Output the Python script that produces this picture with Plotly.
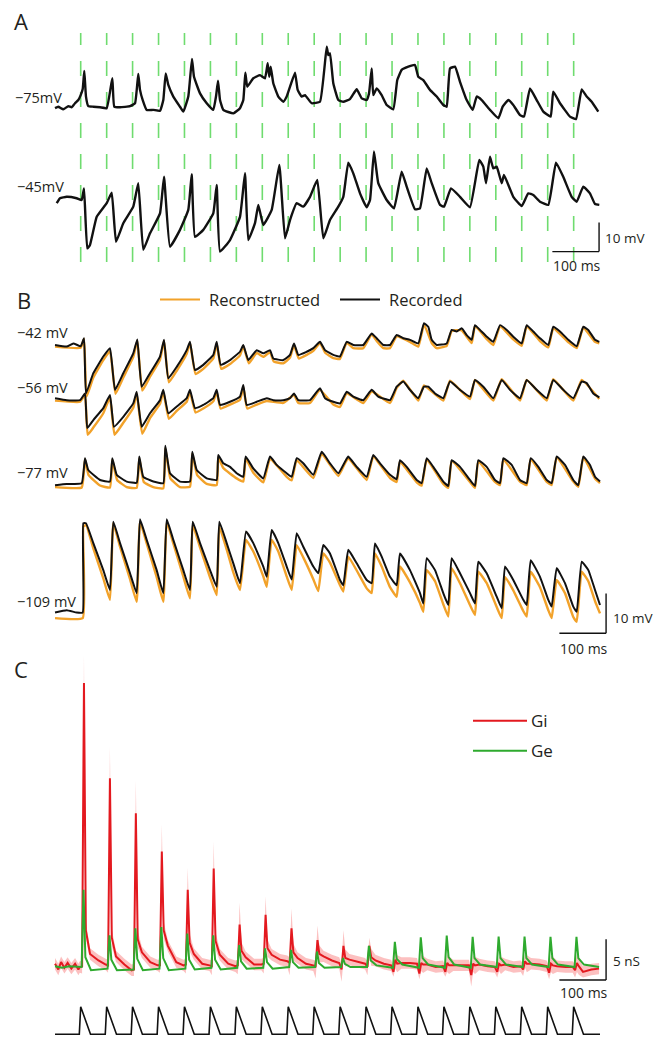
import plotly.graph_objects as go

W, H = 667, 1037

# ---------------- data ----------------
STIM_T = [0.0, 55.6, 111.1, 166.7, 222.2, 277.8, 333.3, 388.9, 444.4, 500.0,
          555.6, 611.1, 666.7, 722.2, 777.8, 833.3, 888.9, 944.4, 1000.0, 1055.6]

# Panel A : (time ms, mV)
A1_TRACE = [(-55, -75.4), (-48, -74.9), (-37.3, -75.8), (-26.5, -74.7), (-19.3, -75.1), (-12.2, -73.7),
            (-5.1, -72.6), (0, -70.9), (4.3, -68.8), (7.7, -62.6), (11.3, -71.4), (16.3, -74.7), (27.0, -74.9),
            (41.3, -75.1), (55.7, -75.4), (67.7, -65.1), (71.9, -74.9), (84.2, -75.1), (105.6, -74.7),
            (116.3, -73.7), (123.3, -63.6), (127.0, -69.1), (132.8, -72.6), (141.3, -76.0), (155.5, -76.0),
            (169.8, -76.3), (176.9, -72.6), (182.0, -63.4), (187.6, -67.4), (198.3, -71.4), (212.6, -74.9),
            (219.7, -76.6), (230.4, -71.4), (238.3, -58.4), (242.6, -64.6), (255.5, -70.3), (269.8, -73.7),
            (283.9, -76.0), (289.7, -71.4), (294.0, -65.9), (298.3, -72.6), (305.3, -76.0), (326.8, -77.2),
            (341.1, -75.4), (348.2, -72.6), (352.5, -63.2), (356.7, -68.0), (369.6, -65.1), (383.9, -64.0),
            (394.6, -65.1), (400.4, -59.9), (403.8, -64.6), (406.8, -61.1), (412.4, -66.8), (423.1, -71.4),
            (433.8, -73.2), (441.1, -71.4), (458.9, -63.2), (464.6, -69.1), (473.2, -71.4), (480.3, -70.9),
            (494.6, -73.7), (512.4, -73.2), (526.8, -54.2), (530.2, -57.1), (533.8, -56.5), (540.9, -66.8),
            (551.6, -72.6), (562.3, -73.2), (576.6, -72.3), (591.0, -68.9), (601.7, -72.0), (612.4, -72.6),
            (617.4, -70.3), (623.1, -61.7), (626.5, -70.9), (633.8, -68.6), (644.5, -70.9), (655.2, -74.3),
            (669.4, -75.8), (677.9, -65.7), (687.3, -62.2), (701.5, -61.1), (715.8, -60.5), (722.9, -64.6),
            (733.6, -65.7), (747.9, -69.1), (762.3, -71.4), (776.4, -74.3), (783.7, -74.9), (790.8, -61.7),
            (801.5, -61.1), (812.2, -66.3), (826.5, -72.6), (839.4, -76.0), (848.0, -71.4), (858.7, -72.6),
            (876.4, -76.0), (894.2, -78.9), (903.6, -74.9), (915.6, -72.6), (926.3, -74.3), (940.7, -77.8),
            (949.2, -78.3), (962.1, -68.6), (976.4, -72.6), (990.6, -76.6), (1006.4, -78.3), (1011.9, -69.7),
            (1026.3, -73.7), (1047.7, -78.3), (1060.6, -79.2), (1072.8, -68.9), (1083.5, -71.4),
            (1094.2, -73.2), (1108.3, -76.6)]

A2_TRACE = [(-51.4, -46.1), (-44.3, -44.4), (-30.0, -43.9), (-8.6, -44.4), (2.1, -45.0), (7.1, -41.0),
            (14.1, -61.7), (19.9, -60.5), (34.3, -50.8), (55.7, -46.1), (66.4, -42.5), (75.6, -59.4),
            (91.2, -53.0), (112.6, -47.3), (123.3, -39.2), (134.0, -62.2), (148.4, -56.5), (169.8, -49.6),
            (178.4, -37.0), (191.2, -61.1), (212.6, -55.3), (230.4, -48.4), (237.7, -36.1), (244.7, -57.7),
            (262.5, -55.3), (283.9, -49.6), (291.2, -39.8), (298.3, -62.8), (319.7, -58.8), (341.1, -50.8),
            (351.8, -35.8), (358.9, -58.8), (373.2, -53.0), (380.3, -46.7), (391.0, -53.6), (409.0, -48.4),
            (425.3, -32.9), (437.5, -58.2), (448.2, -51.9), (462.5, -46.1), (476.6, -47.3), (491.0, -43.9),
            (506.6, -38.1), (519.5, -58.2), (533.8, -51.9), (551.6, -47.3), (562.3, -43.9), (573.0, -32.1),
            (583.7, -35.8), (598.1, -42.7), (612.4, -47.5), (619.5, -45.0), (628.0, -28.3), (637.2, -39.2),
            (655.2, -45.0), (670.9, -47.9), (687.3, -35.2), (698.0, -40.4), (715.8, -48.2), (726.5, -47.9),
            (740.9, -34.1), (751.6, -39.2), (769.4, -46.7), (778.0, -47.3), (792.9, -41.0), (812.2, -43.9),
            (833.6, -47.5), (853.5, -31.2), (862.1, -33.5), (867.9, -39.2), (876.4, -30.1), (883.5, -34.1),
            (890.8, -33.5), (901.5, -39.2), (906.4, -36.4), (926.3, -43.9), (944.3, -47.1), (958.4, -42.7),
            (969.1, -43.3), (983.5, -45.6), (1001.3, -46.7), (1017.7, -32.1), (1033.3, -37.0), (1051.3, -43.9),
            (1062.1, -45.6), (1076.2, -40.4), (1090.5, -42.7), (1101.3, -46.4), (1110.5, -46.7)]

# Panel B : (time ms, mV) recorded (black) and reconstructed (orange)
B42_REC = [(-55, -42.0), (-30, -42.4), (-15.8, -41.6), (0, -42.3), (7.1, -40.3), (11.3, -54.2), (27.0, -49.1),
           (48.4, -44.9), (62.7, -42.8), (73.4, -53.3), (91.2, -49.1), (112.6, -44.1), (121.2, -40.6),
           (130.6, -52.5), (148.4, -49.1), (169.8, -44.9), (178.4, -40.7), (187.6, -50.4), (205.6, -47.5),
           (227.0, -43.3), (234.0, -41.2), (244.7, -48.3), (262.5, -47.0), (283.9, -44.5), (291.2, -41.2),
           (299.8, -47.0), (319.7, -45.8), (341.1, -43.7), (348.2, -42.0), (358.9, -45.8), (376.9, -43.3),
           (391.0, -44.1), (405.3, -43.3), (412.4, -45.4), (433.8, -45.8), (448.2, -44.5), (456.7, -41.6),
           (465.9, -44.5), (483.9, -43.7), (498.1, -42.8), (512.4, -41.2), (523.1, -43.3), (540.9, -44.5),
           (555.2, -44.9), (569.6, -41.2), (583.7, -42.0), (605.1, -42.0), (623.1, -39.1), (633.8, -40.3),
           (648.0, -42.0), (662.3, -42.0), (676.6, -39.5), (690.8, -40.3), (705.1, -40.7), (722.9, -41.6),
           (735.1, -36.5), (744.3, -37.4), (751.6, -40.7), (762.3, -42.0), (783.7, -41.6), (794.4, -38.2),
           (805.1, -38.6), (815.8, -37.8), (826.5, -39.5), (837.2, -40.7), (844.3, -37.0), (855.0, -38.2),
           (869.4, -39.9), (883.5, -41.2), (897.9, -37.0), (912.2, -38.2), (926.3, -39.9), (944.3, -41.6),
           (955.0, -37.0), (969.1, -38.6), (983.5, -40.3), (1001.3, -42.0), (1011.9, -37.4), (1026.3, -38.6),
           (1044.1, -40.7), (1062.1, -42.3), (1076.2, -37.4), (1086.9, -38.2), (1101.3, -40.7), (1110.5, -41.2)]
B42_REC_ON = [(-55, -42.4), (0, -42.7), (7.1, -40.5), (12.5, -55.0), (27, -50.2), (48.4, -45.8), (62.7, -43.5),
              (74.5, -54.3), (91.2, -50.2), (112.6, -45.0), (121.2, -40.9), (131.8, -53.5), (148.4, -50.0),
              (169.8, -45.7), (178.4, -41.0), (188.8, -51.4), (205.6, -48.5), (227, -44.2), (234, -41.5),
              (245.9, -49.3), (262.5, -48.0), (283.9, -45.4), (291.2, -41.6), (301, -48.0), (319.7, -46.8),
              (341.1, -44.6), (348.2, -42.3), (360, -46.6), (376.9, -44.0), (391, -45.0), (405.3, -43.8),
              (413.6, -46.2), (433.8, -46.6), (448.2, -45.2), (456.7, -42.0), (467, -45.4), (483.9, -44.5),
              (498.1, -43.5), (512.4, -41.5), (524, -44.0), (540.9, -45.3), (555.2, -45.5), (569.6, -41.4),
              (583.7, -42.8), (605.1, -42.8), (623.1, -39.3), (633.8, -41.0), (648, -42.8), (662.3, -42.8),
              (676.6, -39.8), (705.1, -41.2), (722.9, -42.4), (735.1, -36.8), (751.6, -41.5), (762.3, -42.8),
              (783.7, -42.2), (794.4, -38.5), (815.8, -38.3), (837.2, -41.5), (844.3, -37.2), (869.4, -40.5),
              (883.5, -42.0), (897.9, -37.3), (926.3, -40.6), (944.3, -42.2), (955, -37.3), (983.5, -41.0),
              (1001.3, -42.6), (1011.9, -37.8), (1044.1, -41.3), (1062.1, -42.8), (1076.2, -37.6),
              (1101.3, -41.2), (1110.5, -41.6)]

B56_REC = [(-55, -55.4), (-30, -55.9), (-1.5, -55.9), (9.2, -54.2), (14.1, -62.9), (27.0, -60.9), (48.4, -57.9),
           (62.7, -54.6), (71.3, -62.6), (91.2, -60.1), (112.6, -56.7), (119.9, -53.8), (130.6, -62.6),
           (148.4, -59.2), (169.8, -55.9), (176.9, -53.3), (187.6, -59.2), (205.6, -57.5), (227.0, -55.4),
           (234.0, -53.3), (244.7, -57.9), (262.5, -57.1), (283.9, -55.4), (291.2, -53.3), (298.3, -57.1),
           (319.7, -56.3), (341.1, -55.0), (348.2, -52.1), (355.4, -57.1), (376.9, -56.3), (398.3, -55.4),
           (412.4, -55.9), (433.8, -55.9), (448.2, -55.4), (456.7, -54.2), (465.9, -55.9), (491.0, -55.9),
           (512.4, -52.9), (523.1, -55.4), (540.9, -56.3), (555.2, -56.7), (569.6, -53.8), (583.7, -55.0),
           (605.1, -55.9), (623.1, -53.3), (637.2, -55.0), (662.3, -55.9), (676.6, -52.5), (690.8, -51.2),
           (705.1, -53.3), (722.9, -55.4), (735.1, -52.5), (744.3, -52.5), (758.7, -54.2), (776.4, -55.4),
           (790.8, -51.2), (812.2, -53.3), (833.6, -55.0), (844.3, -50.8), (862.1, -52.5), (883.5, -55.4),
           (901.5, -50.8), (919.2, -53.3), (940.7, -55.4), (955.0, -50.8), (976.4, -53.3), (997.9, -55.4),
           (1011.9, -50.8), (1033.3, -53.3), (1054.8, -55.4), (1072.8, -51.2), (1083.5, -51.6),
           (1097.6, -54.2), (1110.5, -55.2)]
B56_REC_ON = [(-55, -56.0), (-1.5, -56.3), (9.2, -54.6), (15, -64.6), (27, -62.8), (48.4, -59.2), (62.7, -55.2),
              (72.5, -64.6), (91.2, -61.6), (112.6, -57.8), (119.9, -54.2), (131.8, -64.4), (148.4, -60.4),
              (169.8, -56.8), (176.9, -53.8), (188.8, -60.6), (205.6, -58.6), (227, -56.3), (234, -53.8),
              (245.9, -59.0), (262.5, -58.0), (283.9, -56.2), (291.2, -53.8), (299.5, -58.0), (319.7, -57.0),
              (341.1, -55.8), (348.2, -52.6), (356.6, -58.0), (376.9, -57.0), (398.3, -56.1), (433.8, -56.6),
              (456.7, -54.6), (465.9, -56.6), (491, -56.6), (512.4, -53.3), (540.9, -57.0), (555.2, -57.6),
              (569.6, -54.2), (605.1, -56.6), (623.1, -53.7), (662.3, -56.6), (676.6, -52.8), (690.8, -51.0),
              (722.9, -56.0), (735.1, -52.2), (776.4, -56.0), (790.8, -51.0), (833.6, -55.6), (844.3, -50.8),
              (883.5, -56.0), (901.5, -50.6), (940.7, -56.0), (955, -50.8), (997.9, -56.0), (1011.9, -50.6),
              (1054.8, -56.0), (1072.8, -50.8), (1110.5, -55.6)]

B77_REC = [(-55, -77.3), (-30, -77.0), (2.1, -76.8), (9.2, -70.5), (16.3, -73.5), (41.3, -76.0), (62.7, -76.4),
           (67.7, -70.5), (77.1, -74.7), (98.5, -76.4), (119.9, -76.7), (125.5, -70.1), (134.0, -75.2),
           (155.5, -76.4), (176.9, -76.8), (181.2, -67.4), (191.2, -74.3), (212.6, -76.4), (234.0, -76.4),
           (239.0, -68.9), (248.4, -73.5), (269.8, -75.6), (291.2, -76.0), (294.6, -69.7), (305.3, -71.8),
           (319.7, -72.7), (334.0, -74.3), (348.2, -75.2), (353.3, -70.1), (369.6, -73.1), (391.0, -75.6),
           (405.3, -70.1), (419.7, -72.2), (441.1, -74.3), (451.8, -75.2), (462.5, -70.5), (476.6, -71.8),
           (498.1, -74.7), (516.1, -68.9), (533.8, -71.8), (551.6, -74.3), (565.9, -71.4), (573.0, -70.1),
           (591.0, -72.7), (612.4, -75.2), (626.5, -69.7), (640.9, -71.8), (662.3, -74.7), (676.6, -75.8),
           (683.7, -71.0), (698.0, -72.7), (719.5, -76.0), (730.2, -76.8), (740.9, -70.5), (755.0, -72.7),
           (776.4, -76.4), (787.1, -77.5), (794.4, -71.0), (812.2, -72.7), (833.6, -76.0), (844.3, -77.5),
           (851.4, -71.0), (869.4, -72.7), (887.1, -76.0), (897.9, -76.8), (905.0, -70.5), (922.9, -72.2),
           (940.7, -76.0), (955.0, -76.8), (963.6, -70.5), (979.9, -72.7), (997.9, -76.0), (1008.5, -76.8),
           (1019.2, -70.1), (1037.0, -72.2), (1054.8, -76.0), (1065.5, -77.3), (1076.2, -70.1),
           (1090.5, -72.2), (1101.3, -75.2), (1112.0, -76.4)]
B77_REC_ON = [(-55, -77.8), (2.1, -77.9), (9.2, -70.8), (17, -74.8), (41.3, -77.4), (62.7, -77.9), (67.7, -70.9),
              (78, -76.0), (98.5, -77.8), (119.9, -78.0), (125.5, -70.6), (135, -76.5), (155.5, -77.8),
              (176.9, -78.1), (181.2, -68.0), (192, -75.6), (212.6, -77.8), (234, -77.7), (239, -69.4),
              (249.5, -74.8), (269.8, -77.0), (291.2, -77.3), (294.6, -70.3), (305.3, -73.0), (334, -75.6),
              (348.2, -76.4), (353.3, -70.6), (369.6, -74.2), (391, -76.6), (405.3, -70.7), (441.1, -75.2),
              (451.8, -76.1), (462.5, -71.0), (498.1, -75.5), (516.1, -69.4), (551.6, -75.0), (565.9, -71.8),
              (573, -70.5), (612.4, -76.0), (626.5, -70.1), (662.3, -75.5), (676.6, -76.5), (683.7, -71.4),
              (719.5, -76.6), (730.2, -77.4), (740.9, -70.8), (776.4, -77.0), (787.1, -78.0), (794.4, -71.2),
              (833.6, -76.5), (844.3, -78.0), (851.4, -71.3), (887.1, -76.5), (897.9, -77.3), (905, -70.8),
              (940.7, -76.4), (955, -77.3), (963.6, -70.7), (997.9, -76.5), (1008.5, -77.3), (1019.2, -70.3),
              (1054.8, -76.4), (1065.5, -77.7), (1076.2, -70.3), (1101.3, -75.6), (1112, -76.8)]

B109_REC = [(-55, -109.4), (-30, -108.8), (-8.6, -109.4), (4.3, -109.4), (5.6, -86.9), (11.3, -86.9),
            (27.0, -91.9), (48.4, -98.7), (62.7, -103.7), (69.8, -86.5), (84.2, -91.9), (105.6, -99.5),
            (119.9, -104.5), (127.0, -85.9), (141.3, -91.1), (162.7, -98.7), (176.9, -104.5), (184.2, -85.9),
            (198.3, -91.1), (219.7, -98.7), (234.0, -103.7), (239.8, -86.5), (255.5, -91.9), (276.9, -98.7),
            (291.2, -102.9), (296.8, -86.5), (312.6, -91.9), (326.8, -97.0), (341.1, -102.0), (354.0, -89.0),
            (369.6, -91.9), (391.0, -97.8), (398.3, -100.4), (409.0, -88.6), (423.1, -91.9), (441.1, -97.8),
            (451.8, -101.1), (462.5, -89.4), (476.6, -92.8), (498.1, -97.8), (508.8, -99.5), (519.5, -92.4),
            (533.8, -94.5), (555.2, -101.2), (562.3, -102.5), (573.0, -93.6), (591.0, -97.0), (612.4, -101.2),
            (623.1, -102.0), (630.2, -92.0), (644.5, -95.3), (662.3, -100.4), (676.6, -102.5), (683.7, -94.5),
            (705.1, -98.7), (726.5, -104.5), (733.6, -107.1), (740.9, -95.7), (758.7, -98.7), (776.4, -104.5),
            (787.1, -107.5), (794.4, -95.7), (812.2, -99.5), (833.6, -104.5), (844.3, -107.1), (851.4, -96.6),
            (869.4, -99.5), (890.8, -105.4), (901.5, -108.3), (908.6, -97.8), (926.3, -101.2), (947.7, -106.2),
            (955.0, -107.5), (963.6, -96.2), (983.5, -100.4), (1001.3, -106.2), (1008.5, -107.9),
            (1019.2, -98.2), (1037.0, -102.0), (1054.8, -107.9), (1062.1, -109.2), (1072.8, -96.6),
            (1087.0, -98.7), (1101.3, -103.7), (1112.0, -107.5)]
B109_REC_ON = [(-55, -110.8), (4.3, -110.8), (5.6, -87.8), (11.3, -87.3), (27, -93.2), (48.4, -100.8),
               (62.7, -106.2), (69.8, -86.9), (84.2, -92.8), (105.6, -101.0), (119.9, -106.7), (127, -86.5),
               (141.3, -92.0), (162.7, -100.5), (176.9, -106.7), (184.2, -86.5), (198.3, -92.0), (219.7, -100.3),
               (234, -105.8), (239.8, -87.3), (255.5, -93.0), (276.9, -100.5), (291.2, -105.0), (296.8, -87.8),
               (312.6, -93.5), (326.8, -99.3), (341.1, -103.7), (354, -91.1), (369.6, -94.0), (391, -100.3),
               (398.3, -102.9), (409, -91.1), (423.1, -94.0), (441.1, -100.3), (451.8, -103.7), (462.5, -92.4),
               (476.6, -95.5), (498.1, -101.0), (508.8, -104.0), (519.5, -94.5), (533.8, -96.8), (555.2, -102.5),
               (562.3, -104.1), (573, -95.3), (591, -98.8), (612.4, -103.3), (623.1, -104.5), (630.2, -94.5),
               (644.5, -97.8), (662.3, -103.0), (676.6, -105.4), (683.7, -97.8), (705.1, -101.8),
               (726.5, -107.0), (733.6, -109.2), (740.9, -98.7), (758.7, -101.5), (776.4, -107.3),
               (787.1, -110.4), (794.4, -98.2), (812.2, -102.0), (833.6, -107.5), (844.3, -110.0),
               (851.4, -99.1), (869.4, -102.0), (890.8, -108.0), (901.5, -110.8), (908.6, -100.4),
               (926.3, -103.8), (947.7, -109.0), (955, -110.4), (963.6, -99.1), (983.5, -103.0),
               (1001.3, -108.8), (1008.5, -110.8), (1019.2, -101.2), (1037, -104.5), (1054.8, -110.5),
               (1062.1, -111.7), (1072.8, -99.1), (1087, -101.5), (1101.3, -106.5), (1112, -109.6)]

# Panel C : conductances (nS), per stimulus
GI_BEFORE = [(-55, 0.4), (-48, -0.3), (-42, 0.6), (-35, -0.1), (-28, 0.5), (-20, -0.2), (-12, 0.4), (-5, -0.3)]
GI_PRE = [0.0, 0.3, -0.4, 0.2, 0.2, 0.2, 0.1, 0.3, 0.7, 0.2, 0.5, 0.4, 0.2, 0.4, 0.1, 0.2, 0.0, 0.1, 0.1, 0.0]
GI_DIP = [0.1, 0.2, -0.3, 0.2, 0.3, 0.1, 0.2, 0.4, 0.5, 0.1, -0.3, 0.0, -0.6, -0.8, -0.6, -1.0, -0.6, -0.3, -0.7, -0.4]
GI_PEAK = [34.9, 23.2, 18.9, 14.2, 9.5, 12.1, 5.2, 6.4, 4.75, 3.3, 2.6, 2.6, 0.9, 0.5, 0.5, 0.4, 0.4, 0.7, 0.4, 0.5]
GI_MID = [4.5, 3.6, 3.4, 4.5, 3.0, 3.2, 2.0, 2.3, 1.8, 1.6, 1.1, 1.2, 0.4, 0.3, 0.2, 0.2, 0.2, 0.4, 0.2, 0.1]
GI_TAIL = [1.6, 1.3, 1.8, 2.6, 1.6, 1.5, 1.2, 1.5, 1.1, 1.3, 0.9, 0.8, 0.5, 0.3, 0.2, 0.3, 0.3, 0.4, 0.1, -0.6]
GI_LATE = [0.8, 0.3, 0.6, 0.6, 0.4, 0.4, 0.3, 0.9, 0.4, 0.8, 0.6, 0.4, 0.5, 0.0, 0.2, 0.1, 0.0, 0.3, 0.0, -0.3]
GI_END = (1110, -0.2)
GI_SEM_TOP = [38.3, 27.1, 22.9, 17.5, 12.2, 15.4, 7.9, 8.7, 7.2, 5.1, 4.5, 3.6, 2.0, 1.5, 1.6, 1.4, 1.3, 1.5, 1.4, 1.6]
GI_SEM_LOW = [-0.8, -0.7, -1.1, -0.7, -0.8, -1.0, -0.9, -0.8, -1.0, -1.4, -1.8, -1.0, -1.2, -1.5, -1.2, -2.4, -1.3, -1.1, -1.5, -1.3]
GI_SEM = 0.7

GE_BEFORE = [(-55, 0.1), (-40, -0.1), (-25, 0.1), (-10, 0.0)]
GE_PRE = [0.0, -0.2, -0.3, -0.2, -0.2, -0.1, -0.1, -0.1, 0.0, 0.0, 0.0, 0.0, -0.1, -0.1, -0.1, -0.1, 0.0, 0.0, 0.0, 0.0]
GE_PEAK = [9.5, 3.9, 4.75, 4.9, 4.1, 3.9, 2.7, 2.3, 2.1, 1.9, 1.1, 2.6, 3.1, 3.65, 3.85, 3.7, 3.75, 3.75, 3.7, 3.7]
GE_MID = [1.2, 0.9, 1.0, 1.1, 0.9, 0.9, 0.7, 0.6, 0.6, 0.5, 0.4, 0.8, 1.0, 1.1, 1.2, 1.1, 1.1, 1.1, 1.1, 1.1]
GE_UNDER = [-0.4, -0.4, -0.4, -0.4, -0.3, -0.3, -0.2, -0.2, -0.1, -0.1, 0.0, 0.2, 0.3, 0.3, 0.3, 0.3, 0.3, 0.3, 0.3, 0.3]
GE_END = (1110, 0.0)

STIM_RANGE = (-55, 1112)

# ---------------- layout helpers ----------------
X_PX0, PX_PER_MS = 80.7, 0.467
X_RANGE = [-X_PX0 / PX_PER_MS, (W - X_PX0) / PX_PER_MS]


def yrange(v0, p0, s):
    return [v0 - (H - p0) / s, v0 + p0 / s]


def px(x, y):
    return x / W, 1 - y / H


FONT = "Open Sans"
TXT = "#231f20"
BLACK = "#111111"
ORANGE = "#f2a22a"
RED = "#e3191f"
GREEN = "#2eaa2e"
LGREEN = "#6fdc6f"

fig = go.Figure()


def add(pairs, color, width, axis, smooth=None):
    line = dict(color=color, width=width)
    if smooth:
        line.update(shape="spline", smoothing=smooth)
    fig.add_trace(go.Scatter(x=[p[0] for p in pairs], y=[p[1] for p in pairs], mode="lines",
                             line=line, yaxis=axis, hoverinfo="skip"))


# Panel A
add(A1_TRACE, BLACK, 2.4, "y", 0.35)
add(A2_TRACE, BLACK, 2.4, "y2", 0.35)

# Panel B
for rec_on, rec in [(B42_REC_ON, B42_REC), (B56_REC_ON, B56_REC), (B77_REC_ON, B77_REC), (B109_REC_ON, B109_REC)]:
    add(rec_on, ORANGE, 2.4, "y3", 0.35)
    add(rec, BLACK, 2.0, "y3", 0.35)

# Panel C: build Gi / Ge polylines from per-stimulus readings
gi_pts = list(GI_BEFORE)
gi_up = [v + GI_SEM for _, v in GI_BEFORE]
gi_lo = [v - GI_SEM for _, v in GI_BEFORE]
for k, s in enumerate(STIM_T):
    d = GI_SEM_TOP[k] - GI_PEAK[k]
    seq = [(s - 2, GI_PRE[k], GI_PRE[k] + GI_SEM, GI_PRE[k] - GI_SEM),
           (s + 3, GI_DIP[k], GI_DIP[k] + GI_SEM, GI_SEM_LOW[k]),
           (s + 7, GI_PEAK[k], GI_SEM_TOP[k], GI_PEAK[k] - d),
           (s + 11, GI_MID[k], GI_MID[k] + 1.5 * GI_SEM, GI_MID[k] - 1.5 * GI_SEM),
           (s + 20, GI_TAIL[k], GI_TAIL[k] + GI_SEM, GI_TAIL[k] - GI_SEM),
           (s + 38, GI_LATE[k], GI_LATE[k] + GI_SEM, GI_LATE[k] - GI_SEM)]
    for t, v, u, l in seq:
        gi_pts.append((t, v))
        gi_up.append(u)
        gi_lo.append(l)
gi_pts.append(GI_END)
gi_up.append(GI_END[1] + GI_SEM)
gi_lo.append(GI_END[1] - GI_SEM)

ge_pts = list(GE_BEFORE)
for k, s in enumerate(STIM_T):
    ge_pts += [(s - 1, GE_PRE[k]), (s + 2, GE_PRE[k]), (s + 6, GE_PEAK[k]),
               (s + 10, GE_MID[k]), (s + 22, GE_UNDER[k])]
ge_pts.append(GE_END)

gi_t = [p[0] for p in gi_pts]
fig.add_trace(go.Scatter(x=gi_t, y=gi_up, mode="lines", line=dict(width=0, color="rgba(0,0,0,0)"),
                         yaxis="y4", hoverinfo="skip"))
fig.add_trace(go.Scatter(x=gi_t, y=gi_lo, mode="lines", line=dict(width=0, color="rgba(0,0,0,0)"),
                         fill="tonexty", fillcolor="rgba(250,150,150,0.6)", yaxis="y4", hoverinfo="skip"))
add(gi_pts, RED, 2.0, "y4")
add(ge_pts, GREEN, 2.0, "y4")

# stimulus sawtooth
st = [(STIM_RANGE[0], 0.0)]
for s in STIM_T:
    st += [(s - 3, 0.0), (s, 1.0), (s + 21, 0.0)]
st.append((STIM_RANGE[1], 0.0))
add(st, BLACK, 1.6, "y5")

# ---------------- decorations ----------------
shapes = []
ya0, ya1 = 1 - 262 / H, 1 - 33 / H
for s in STIM_T:
    shapes.append(dict(type="line", xref="x", yref="paper", x0=s, x1=s, y0=ya0, y1=ya1,
                       line=dict(color=LGREEN, width=1.6, dash="15px,16px"), layer="below"))

bar = dict(color=BLACK, width=1.4)
# A scale bar (10 mV, 100 ms) on y2
shapes += [dict(type="line", xref="x", yref="y2", x0=1010, x1=1110, y0=-62.8, y1=-62.8, line=bar),
           dict(type="line", xref="x", yref="y2", x0=1110, x1=1110, y0=-62.8, y1=-52.8, line=bar)]
# B scale bar on y3
shapes += [dict(type="line", xref="x", yref="y3", x0=1025, x1=1125, y0=-114.6, y1=-114.6, line=bar),
           dict(type="line", xref="x", yref="y3", x0=1125, x1=1125, y0=-114.6, y1=-104.6, line=bar)]
# C scale bar (5 nS, 100 ms) on y4
shapes += [dict(type="line", xref="x", yref="y4", x0=1025, x1=1125, y0=-1.6, y1=-1.6, line=bar),
           dict(type="line", xref="x", yref="y4", x0=1125, x1=1125, y0=-1.6, y1=3.4, line=bar)]


def legline(x0, x1, y, color):
    a, b = px(x0, y)
    c, _ = px(x1, y)
    return dict(type="line", xref="paper", yref="paper", x0=a, x1=c, y0=b, y1=b,
                line=dict(color=color, width=2))


shapes += [legline(160, 200, 299.5, ORANGE), legline(340, 380, 299.5, BLACK),
           legline(473, 527, 720.7, RED), legline(473, 527, 750.7, GREEN)]

annotations = []


def txt(text, x, y, size=13, anchor="left"):
    a, b = px(x, y)
    annotations.append(dict(text=text, x=a, y=b, xref="paper", yref="paper", showarrow=False,
                            xanchor=anchor, yanchor="middle",
                            font=dict(family=FONT, size=size, color=TXT)))


txt("A", 12, 21, 22)
txt("B", 15, 300, 22)
txt("C", 12, 669, 22)
txt("\u221275mV", 13, 97, 14.5)
txt("\u221245mV", 15, 187, 14.5)
txt("\u221242 mV", 15, 332, 14.5)
txt("\u221256 mV", 15, 387, 14.5)
txt("\u221277 mV", 15, 473, 14.5)
txt("\u2212109 mV", 15, 601, 14.5)
txt("10 mV", 603, 237.5, 13.5)
txt("100 ms", 577, 265, 14, "center")
txt("Reconstructed", 207, 299.5, 16.5)
txt("Recorded", 387, 299.5, 16.5)
txt("10 mV", 611, 617.5, 13.5)
txt("100 ms", 584, 648, 14, "center")
txt("Gi", 529, 720.5, 17)
txt("Ge", 529, 750.5, 17)
txt("5 nS", 611, 961, 13.5)
txt("100 ms", 584, 992, 14, "center")

hidden = dict(visible=False, fixedrange=True)
fig.update_layout(
    width=W, height=H, margin=dict(l=0, r=0, t=0, b=0),
    paper_bgcolor="white", plot_bgcolor="white", showlegend=False,
    xaxis=dict(range=X_RANGE, domain=[0, 1], **hidden),
    yaxis=dict(range=yrange(-75, 107, 2.9), domain=[0, 1], **hidden),
    yaxis2=dict(range=yrange(-45, 200, 2.9), overlaying="y", **hidden),
    yaxis3=dict(range=yrange(-42, 345, 3.97), overlaying="y", **hidden),
    yaxis4=dict(range=yrange(0, 967, 8.14), overlaying="y", **hidden),
    yaxis5=dict(range=yrange(0, 1034.3, 27.6), overlaying="y", **hidden),
    shapes=shapes, annotations=annotations,
)

fig.write_html("out.html", config={"displayModeBar": False},
               post_script="document.body.style.margin='0';document.body.style.overflow='hidden';")
